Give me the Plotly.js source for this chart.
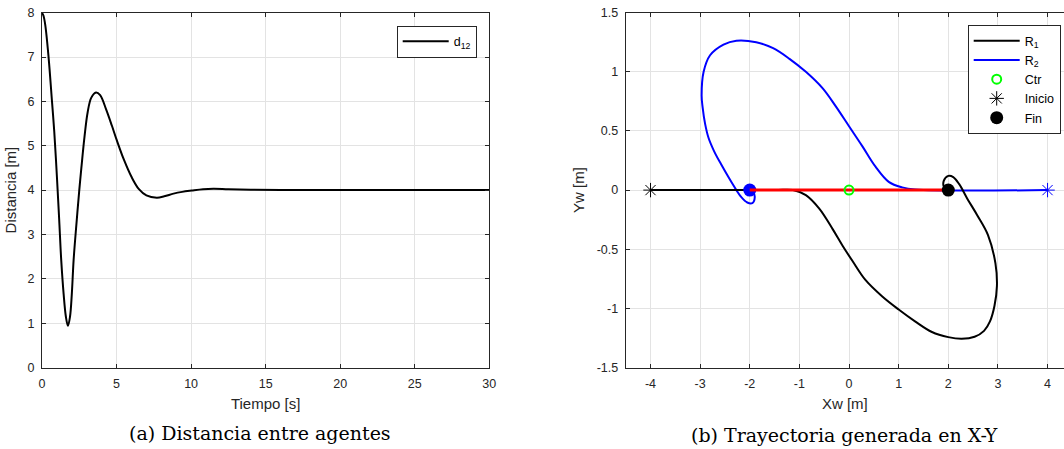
<!DOCTYPE html>
<html>
<head>
<meta charset="utf-8">
<script src="https://cdn.plot.ly/plotly-3.0.1.min.js"></script>
<style>
  html, body { margin: 0; padding: 0; background: #ffffff; overflow: hidden; }
  #fig { width: 1064px; height: 449px; }
</style>
</head>
<body>
<div id="fig"></div>
<script>
// (a) distance between the two agents over time
const tiempo = [0, 0.1, 0.22, 0.44, 0.67, 0.82, 1.0, 1.15, 1.29, 1.45, 1.6, 1.74, 1.88, 2.0, 2.12,
  2.3, 2.5, 2.64, 2.85, 3.06, 3.3, 3.62, 3.9, 4.3, 4.69, 5.02, 5.5, 6.0, 6.5, 7.0, 7.7, 8.2,
  8.82, 9.4, 10.05, 10.8, 11.5, 12.5, 14, 16, 20, 25, 30];
const distancia = [8, 7.93, 7.72, 7.0, 6.0, 5.33, 4.3, 3.35, 2.42, 1.66, 1.15, 0.94, 1.15, 1.66, 2.42,
  3.2, 4.0, 4.5, 5.2, 5.75, 6.08, 6.2, 6.14, 5.82, 5.45, 5.12, 4.68, 4.3, 4.02, 3.88, 3.83, 3.86,
  3.92, 3.96, 3.99, 4.02, 4.03, 4.02, 4.01, 4.0, 4.0, 4.0, 4.0];

// (b) X-Y trajectories of both robots
const r1X = [-4, -1.5, -1.13, -0.87, -0.6, -0.33, -0.13, 0.07, 0.33, 0.67, 1.0, 1.33, 1.67, 2.0, 2.27,
  2.53, 2.72, 2.84, 2.93, 2.98, 2.95, 2.8, 2.58, 2.38, 2.22, 2.1, 2.0, 1.91, 1.92, 2.0];
const r1Y = [0, 0, 0, -0.043, -0.157, -0.33, -0.47, -0.6, -0.76, -0.9, -1.01, -1.11, -1.2, -1.243, -1.257,
  -1.24, -1.19, -1.11, -0.98, -0.81, -0.62, -0.38, -0.21, -0.07, 0.05, 0.11, 0.12, 0.08, 0.02, 0];
const r2X = [4, 1.33, 1.07, 0.8, 0.53, 0.27, 0, -0.27, -0.53, -0.87, -1.2, -1.53, -1.87, -2.27, -2.53,
  -2.8, -2.93, -2.97, -2.95, -2.9, -2.83, -2.72, -2.58, -2.43, -2.27, -2.17, -2.05, -1.95, -1.9, -1.93, -2.0];
const r2Y = [0, 0.005, 0.023, 0.07, 0.2, 0.37, 0.54, 0.71, 0.86, 1.0, 1.11, 1.2, 1.25, 1.263, 1.23,
  1.14, 1.0, 0.8, 0.7, 0.56, 0.44, 0.33, 0.22, 0.11, 0.0, -0.06, -0.105, -0.11, -0.06, -0.02, 0];
const inicioR1 = [-4, 0], inicioR2 = [4, 0];
const finR1 = [2, 0], finR2 = [-2, 0];
const centro = [0, 0];

// tick labels
const tTicks = [0, 5, 10, 15, 20, 25, 30];
const dTicks = [0, 1, 2, 3, 4, 5, 6, 7, 8];
const xwTicks = [-4, -3, -2, -1, 0, 1, 2, 3, 4];
const xwText = ['-4', '-3', '-2', '-1', '0', '1', '2', '3', '4'];
const ywTicks = [-1.5, -1, -0.5, 0, 0.5, 1, 1.5];
const ywText = ['-1.5', '-1', '-0.5', '0', '0.5', '1', '1.5'];

const W = 1064, H = 449;
const px = v => v / W;
const py = v => 1 - v / H;

const sans = 'Liberation Sans, Arial, Helvetica, sans-serif';
const serif = 'DejaVu Serif, serif';
const axisCol = '#262626';
const gridCol = '#e3e3e3';

function baseAxis(extra) {
  return Object.assign({
    showline: true, linecolor: axisCol, linewidth: 1, mirror: 'ticks',
    ticks: 'inside', ticklen: 4, tickcolor: axisCol, tickwidth: 1,
    showgrid: true, gridcolor: gridCol, gridwidth: 1, zeroline: false,
    ticklabelstandoff: 4,
    tickfont: { family: sans, size: 12.5, color: axisCol },
    fixedrange: true
  }, extra);
}

// smooth curves through every sampled point (no point dropping)
const smooth = { shape: 'spline', smoothing: 1, simplify: false };
const titleFont = { family: sans, size: 15, color: axisCol };

const traces = [
  { x: tiempo, y: distancia, xaxis: 'x', yaxis: 'y', mode: 'lines', name: 'd<sub>12</sub>',
    line: Object.assign({ color: '#000000', width: 2 }, smooth), legend: 'legend' },

  { x: r2X, y: r2Y, xaxis: 'x2', yaxis: 'y2', mode: 'lines', name: 'R<sub>2</sub>', legendrank: 2,
    line: Object.assign({ color: '#0000ff', width: 2 }, smooth), legend: 'legend2' },
  { x: r1X, y: r1Y, xaxis: 'x2', yaxis: 'y2', mode: 'lines', name: 'R<sub>1</sub>', legendrank: 1,
    line: Object.assign({ color: '#000000', width: 2 }, smooth), legend: 'legend2' },
  { x: [inicioR2[0]], y: [inicioR2[1]], xaxis: 'x2', yaxis: 'y2', mode: 'markers', showlegend: false,
    marker: { symbol: 'asterisk-open', size: 12, color: '#0000ff', line: { color: '#0000ff', width: 1 } } },
  { x: [finR2[0]], y: [finR2[1]], xaxis: 'x2', yaxis: 'y2', mode: 'markers', showlegend: false,
    marker: { symbol: 'circle', size: 13, color: '#0000ff' } },
  { x: [finR2[0], finR1[0]], y: [finR2[1], finR1[1]], xaxis: 'x2', yaxis: 'y2', mode: 'lines',
    showlegend: false, line: { color: '#ff0000', width: 3 } },
  { x: [centro[0]], y: [centro[1]], xaxis: 'x2', yaxis: 'y2', mode: 'markers', name: 'Ctr', legendrank: 3,
    marker: { symbol: 'circle-open', size: 9, color: '#00ff00', line: { color: '#00ff00', width: 2 } },
    legend: 'legend2' },
  { x: [inicioR1[0]], y: [inicioR1[1]], xaxis: 'x2', yaxis: 'y2', mode: 'markers', name: 'Inicio', legendrank: 4,
    marker: { symbol: 'asterisk-open', size: 12, color: '#000000', line: { color: '#000000', width: 1 } },
    legend: 'legend2' },
  { x: [finR1[0]], y: [finR1[1]], xaxis: 'x2', yaxis: 'y2', mode: 'markers', name: 'Fin', legendrank: 5,
    marker: { symbol: 'circle', size: 13, color: '#000000' }, legend: 'legend2' }
];

const plotTop = 12.7, plotBottom = 367.5;

const layout = {
  width: W, height: H,
  margin: { l: 0, r: 0, t: 0, b: 0 },
  paper_bgcolor: '#ffffff', plot_bgcolor: '#ffffff',
  font: { family: sans, color: axisCol },
  xaxis: baseAxis({
    domain: [px(42), px(489.3)], range: [0, 30], tickvals: tTicks, anchor: 'y',
    title: { text: 'Tiempo [s]', font: titleFont, standoff: 8 }
  }),
  yaxis: baseAxis({
    domain: [py(plotBottom), py(plotTop)], range: [0, 8], tickvals: dTicks, anchor: 'x',
    title: { text: 'Distancia [m]', font: titleFont, standoff: 7 }
  }),
  xaxis2: baseAxis({
    domain: [px(625.7), 1], range: [-4.5, -4.5 + (W - 625.7) / 49.63], anchor: 'y2',
    tickvals: xwTicks, ticktext: xwText,
    title: { text: 'Xw [m]', font: titleFont, standoff: 8 }
  }),
  yaxis2: baseAxis({
    domain: [py(plotBottom), py(plotTop)], range: [-1.5, 1.5], anchor: 'x2',
    tickvals: ywTicks, ticktext: ywText, mirror: false,
    title: { text: 'Yw [m]', font: titleFont, standoff: 8 }
  }),
  legend: {
    x: px(476.7), xanchor: 'right', y: py(25.7), yanchor: 'top', itemwidth: 46,
    bgcolor: '#ffffff', bordercolor: axisCol, borderwidth: 1,
    font: { family: sans, size: 12.5, color: '#000000' }
  },
  legend2: {
    x: px(1060.7), xanchor: 'right', y: py(25), yanchor: 'top', itemwidth: 46,
    bgcolor: '#ffffff', bordercolor: axisCol, borderwidth: 1, tracegroupgap: 0,
    font: { family: sans, size: 12.5, color: '#000000' }
  },
  annotations: [
    { text: '(a) Distancia entre agentes', xref: 'paper', yref: 'paper', x: px(260), y: py(433),
      xanchor: 'center', yanchor: 'middle', showarrow: false,
      font: { family: serif, size: 19, color: '#000000' } },
    { text: '(b) Trayectoria generada en X-Y', xref: 'paper', yref: 'paper', x: px(844), y: py(435),
      xanchor: 'center', yanchor: 'middle', showarrow: false,
      font: { family: serif, size: 19, color: '#000000' } }
  ],
  showlegend: true
};

Plotly.newPlot('fig', traces, layout, { staticPlot: true, displayModeBar: false });
</script>
</body>
</html>
